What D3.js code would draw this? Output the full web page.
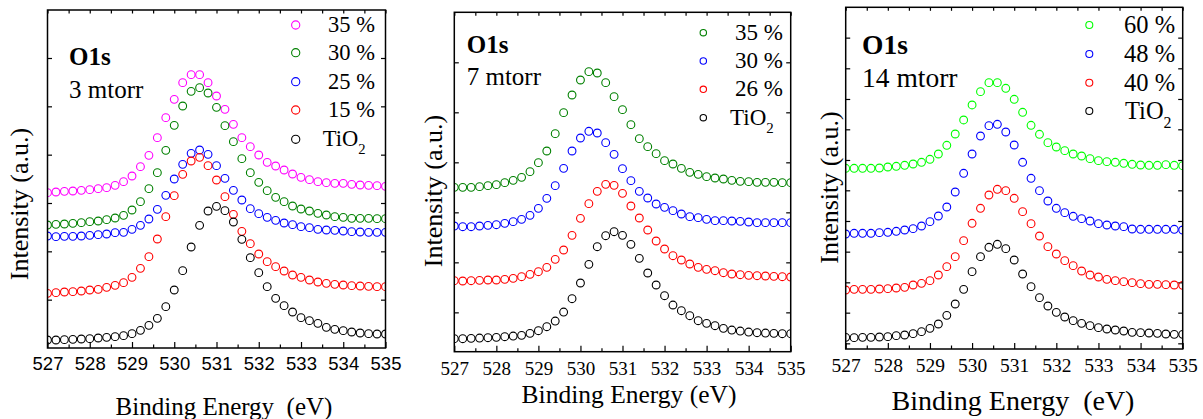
<!DOCTYPE html>
<html>
<head>
<meta charset="utf-8">
<script src="https://cdn.jsdelivr.net/npm/d3@7"></script>
<style>
  body { margin: 0; background: #fff; }
  svg { display: block; }
</style>
</head>
<body>
<script>
// Binding energy grid (eV), shared by all spectra
const energy = [527.0, 527.2, 527.4, 527.6, 527.8, 528.0, 528.2, 528.4, 528.6, 528.8,
                529.0, 529.2, 529.4, 529.6, 529.8, 530.0, 530.2, 530.4, 530.6, 530.8,
                531.0, 531.2, 531.4, 531.6, 531.8, 532.0, 532.2, 532.4, 532.6, 532.8,
                533.0, 533.2, 533.4, 533.6, 533.8, 534.0, 534.2, 534.4, 534.6, 534.8, 535.0];
const xTickValues = [527, 528, 529, 530, 531, 532, 533, 534, 535];
const xMinorValues = [527.5, 528.5, 529.5, 530.5, 531.5, 532.5, 533.5, 534.5];

// O1s spectra, 3 mtorr (intensity, a.u., vertically offset)
const p3_35  = [466,468,470,471,473,475,478,481,488,499,516,544,578,631,691,746,796,820,820,796,756,716,671,631,604,579,557,546,534,522,512,505,499,496,494,494,491,489,488,487,485];
const p3_30  = [369,371,372,374,376,379,381,385,390,398,414,439,478,526,593,668,726,770,781,765,722,667,619,568,526,497,472,452,439,426,417,411,404,399,394,392,389,389,389,388,388];
const p3_25  = [336,334,335,335,336,338,340,342,346,347,356,368,387,416,458,507,551,584,594,581,547,509,473,444,418,403,392,383,375,370,364,361,356,354,353,351,349,348,347,347,347];
const p3_15  = [164,166,168,169,171,174,176,182,188,196,212,239,274,327,394,457,521,561,572,547,504,454,401,350,313,282,259,244,231,219,212,204,198,194,191,189,187,186,185,184,184];
const p3_TiO2 = [24,24,25,26,27,28,30,32,34,37,43,53,68,89,124,174,232,303,368,411,425,412,378,326,271,226,184,149,127,108,91,82,74,62,56,52,48,45,43,42,42];

// O1s spectra, 7 mtorr
const p7_35  = [493,493,493,495,498,501,507,514,523,540,567,602,654,717,770,815,840,836,807,765,726,681,639,615,594,573,563,550,538,532,525,521,518,514,511,510,508,508,508,507,507];
const p7_30  = [377,375,375,377,379,381,385,390,397,409,430,460,498,550,602,641,661,656,627,592,549,513,481,461,443,433,423,413,405,402,397,393,393,392,391,389,387,387,387,387,387];
const p7_26  = [213,212,213,214,215,215,217,220,225,232,240,253,277,305,349,400,444,481,502,499,475,437,401,365,332,308,288,275,263,253,247,243,237,233,231,229,228,227,226,225,224];
const p7_TiO2 = [39,39,40,41,42,43,45,47,49,55,63,75,92,119,159,206,262,315,348,360,349,322,280,236,200,168,140,123,108,93,85,78,70,65,62,59,57,56,55,54,54];

// O1s spectra, 14 mtorr
const p14_60 = [542,542,542,542,543,546,548,551,555,560,569,585,611,645,687,732,772,799,799,782,749,710,671,644,619,606,595,585,579,571,565,562,560,557,554,552,551,551,553,551,550];
const p14_48 = [345,347,347,347,349,350,353,357,361,369,382,399,426,471,527,585,639,670,674,651,612,560,512,475,444,422,409,398,391,384,376,372,369,367,360,359,359,359,359,359,357];
const p14_40 = [177,179,179,179,180,181,183,185,192,197,205,222,247,277,325,377,422,462,479,475,452,412,376,339,307,285,265,250,234,222,216,209,205,202,199,196,194,194,193,192,191];
const p14_TiO2 = [35,34,35,35,36,37,40,42,46,52,62,75,101,135,179,232,277,305,314,301,267,225,187,154,129,110,96,85,77,70,64,60,57,54,50,49,48,47,45,44,44];

// Legend labels and y-axis tick values per panel
const labels3 = ["35 %", "30 %", "25 %", "15 %", "TiO2"];
const labels7 = ["35 %", "30 %", "26 %", "TiO2"];
const labels14 = ["60 %", "48 %", "40 %", "TiO2"];
const yTicks3 = [145, 290, 435, 580, 725, 870];
const yTicks7 = [118, 268, 418, 568, 718, 868];
const yTicks14 = [17, 109, 200, 292, 384, 476, 567, 659, 750, 842, 934];

const SERIF = "'Liberation Serif', 'Times New Roman', serif";
const SANS = "'Liberation Sans', Arial, sans-serif";

const panels = [
  {
    id: "p3", left: 47.5, top: 10, right: 385.5, bottom: 348, yMax: 1014, yTicks: yTicks3,
    series: [p3_35, p3_30, p3_25, p3_15, p3_TiO2],
    colors: ["#ff00ff", "#008000", "#0000ff", "#ff0000", "#000000"],
    labels: labels3, pressure: "3 mtorr",
    tickFont: SANS, tickSize: 18.5, tickPad: 8.5,
    xTitle: "Binding Energy  (eV)", xTitleX: 224, xTitleY: 415, xTitleSize: 25,
    yTitleX: 28, yTitleY: 204, yTitleSize: 26,
    labelX: 69, o1sY: 65, presY: 97.7, headSize: 25,
    legMarkX: 295.7, legRows: [25, 52.7, 81.7, 110, 139.3], legTextX: 328, legTiX: 322.7,
    legR: 4.1, legSize: 22.5, legDy: 7
  },
  {
    id: "p7", left: 454.3, top: 12.3, right: 790.7, bottom: 351.7, yMax: 1018, yTicks: yTicks7,
    series: [p7_35, p7_30, p7_26, p7_TiO2],
    colors: ["#008000", "#0000ff", "#ff0000", "#000000"],
    labels: labels7, pressure: "7 mtorr",
    tickFont: SERIF, tickSize: 19, tickPad: 10,
    xTitle: "Binding Energy (eV)", xTitleX: 629, xTitleY: 403, xTitleSize: 25.5,
    yTitleX: 442, yTitleY: 191, yTitleSize: 26,
    labelX: 466.7, o1sY: 53.3, presY: 85, headSize: 25,
    legMarkX: 703.3, legRows: [32.7, 61, 89.3, 117.7], legTextX: 735, legTiX: 730,
    legR: 3.2, legSize: 23, legDy: 7
  },
  {
    id: "p14", left: 845.7, top: 7.3, right: 1182.7, bottom: 349, yMax: 1025, yTicks: yTicks14,
    series: [p14_60, p14_48, p14_40, p14_TiO2],
    colors: ["#00ff00", "#0000ff", "#ff0000", "#000000"],
    labels: labels14, pressure: "14 mtorr",
    tickFont: SERIF, tickSize: 19.5, tickPad: 9,
    xTitle: "Binding Energy  (eV)", xTitleX: 1013, xTitleY: 410, xTitleSize: 28,
    yTitleX: 838, yTitleY: 187.5, yTitleSize: 26,
    labelX: 862, o1sY: 54, presY: 87, headSize: 27.5,
    legMarkX: 1089.3, legRows: [25, 54, 82.7, 111], legTextX: 1124, legTiX: 1125,
    legR: 3.5, legSize: 24.5, legDy: 8
  }
];

const svg = d3.select("body").append("svg")
  .attr("width", 1203).attr("height", 419);

function styleAxis(sel) {
  sel.select(".domain").remove();
  sel.selectAll(".tick line").attr("stroke", "#000").attr("stroke-width", 1.2);
}

panels.forEach(p => {
  const g = svg.append("g");
  const x = d3.scaleLinear().domain([527, 535]).range([p.left, p.right]);
  const y = d3.scaleLinear().domain([0, p.yMax]).range([p.bottom, p.top]);

  // clip region for the data markers
  svg.append("clipPath").attr("id", "clip-" + p.id)
    .append("rect")
    .attr("x", p.left).attr("y", p.top)
    .attr("width", p.right - p.left).attr("height", p.bottom - p.top);

  // bottom axis with labels (major) and minor ticks
  const xb = g.append("g").attr("transform", `translate(0,${p.bottom})`)
    .call(d3.axisBottom(x).tickValues(xTickValues).tickSize(-6)
      .tickPadding(p.tickPad).tickFormat(d3.format("d")));
  styleAxis(xb);
  xb.selectAll("text").attr("fill", "#000")
    .style("font-family", p.tickFont).style("font-size", p.tickSize + "px");
  styleAxis(g.append("g").attr("transform", `translate(0,${p.bottom})`)
    .call(d3.axisBottom(x).tickValues(xMinorValues).tickSize(-3.5).tickFormat("")));

  // top axis
  styleAxis(g.append("g").attr("transform", `translate(0,${p.top})`)
    .call(d3.axisTop(x).tickValues(xTickValues.concat(xMinorValues)).tickSize(-3.5).tickFormat("")));

  // left & right axes (no labels)
  styleAxis(g.append("g").attr("transform", `translate(${p.left},0)`)
    .call(d3.axisLeft(y).tickValues(p.yTicks).tickSize(-4.5).tickFormat("")));
  styleAxis(g.append("g").attr("transform", `translate(${p.right},0)`)
    .call(d3.axisRight(y).tickValues(p.yTicks).tickSize(-4.5).tickFormat("")));

  // spectra as open circles
  const dataG = g.append("g").attr("clip-path", `url(#clip-${p.id})`);
  p.series.forEach((vals, si) => {
    dataG.append("g").selectAll("circle")
      .data(vals.map((v, i) => [energy[i], v]))
      .join("circle")
      .attr("cx", d => x(d[0]))
      .attr("cy", d => y(d[1]))
      .attr("r", 3.9)
      .attr("fill", "none")
      .attr("stroke", p.colors[si])
      .attr("stroke-width", 1.1);
  });

  // frame
  g.append("rect")
    .attr("x", p.left).attr("y", p.top)
    .attr("width", p.right - p.left).attr("height", p.bottom - p.top)
    .attr("fill", "none").attr("stroke", "#000").attr("stroke-width", 1.5);

  // panel heading
  g.append("text").attr("x", p.labelX).attr("y", p.o1sY)
    .style("font-family", SERIF).style("font-weight", "bold")
    .style("font-size", p.headSize + "px").text("O1s");
  g.append("text").attr("x", p.labelX).attr("y", p.presY)
    .style("font-family", SERIF)
    .style("font-size", p.headSize + "px").text(p.pressure);

  // legend
  p.labels.forEach((lab, li) => {
    const ry = p.legRows[li];
    g.append("circle").attr("cx", p.legMarkX).attr("cy", ry).attr("r", p.legR)
      .attr("fill", "none").attr("stroke", p.colors[li]).attr("stroke-width", 1.1);
    const t = g.append("text").attr("y", ry + p.legDy)
      .style("font-family", SERIF).style("font-size", p.legSize + "px");
    if (lab === "TiO2") {
      t.attr("x", p.legTiX);
      t.append("tspan").text("TiO");
      t.append("tspan").attr("dy", p.legSize * 0.35)
        .style("font-size", (p.legSize * 0.65) + "px").text("2");
    } else {
      t.attr("x", p.legTextX).text(lab);
    }
  });

  // axis titles
  g.append("text").attr("x", p.xTitleX).attr("y", p.xTitleY)
    .attr("text-anchor", "middle").style("white-space", "pre")
    .style("font-family", SERIF).style("font-size", p.xTitleSize + "px")
    .text(p.xTitle);
  g.append("text")
    .attr("transform", `translate(${p.yTitleX},${p.yTitleY}) rotate(-90)`)
    .attr("text-anchor", "middle")
    .style("font-family", SERIF).style("font-size", p.yTitleSize + "px")
    .text("Intensity (a.u.)");
});
</script>
</body>
</html>
